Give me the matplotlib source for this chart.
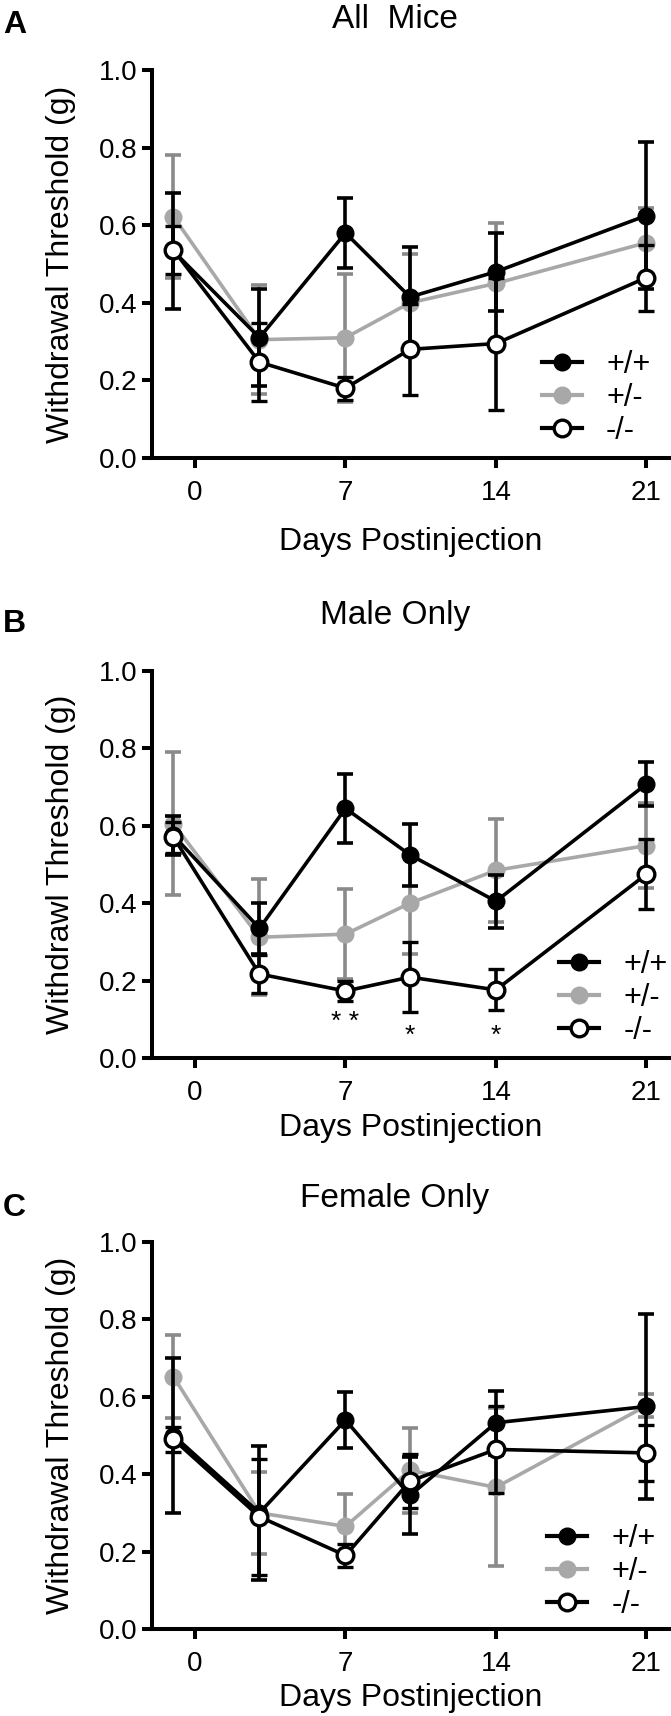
import matplotlib
matplotlib.use('Agg')

import numpy as np
import matplotlib.pyplot as plt

plt.rcParams['font.family'] = ['Liberation Sans', 'DejaVu Sans']

# Data (days postinjection, baseline drawn at -1)
days = [-1, 3, 7, 10, 14, 21]
groups = ['+/+', '+/-', '-/-']

# All mice
all_wt = [0.533, 0.31, 0.58, 0.415, 0.48, 0.625]
all_wt_err = [0.15, 0.125, 0.09, 0.13, 0.10, 0.19]
all_het = [0.622, 0.305, 0.31, 0.40, 0.45, 0.555]
all_het_err = [0.158, 0.14, 0.165, 0.125, 0.155, 0.09]
all_ko = [0.536, 0.247, 0.18, 0.28, 0.295, 0.465]
all_ko_err = [0.061, 0.10, 0.03, 0.118, 0.17, 0.085]

# Male only
male_wt = [0.575, 0.335, 0.645, 0.525, 0.405, 0.708]
male_wt_err = [0.05, 0.065, 0.09, 0.08, 0.068, 0.057]
male_het = [0.605, 0.312, 0.32, 0.40, 0.485, 0.549]
male_het_err = [0.185, 0.15, 0.117, 0.13, 0.133, 0.11]
male_ko = [0.571, 0.217, 0.173, 0.209, 0.176, 0.475]
male_ko_err = [0.04, 0.05, 0.025, 0.09, 0.053, 0.09]

# Female only
fem_wt = [0.50, 0.30, 0.54, 0.345, 0.533, 0.575]
fem_wt_err = [0.20, 0.173, 0.072, 0.10, 0.083, 0.24]
fem_het = [0.652, 0.30, 0.265, 0.41, 0.366, 0.577]
fem_het_err = [0.107, 0.105, 0.085, 0.11, 0.204, 0.03]
fem_ko = [0.49, 0.29, 0.19, 0.382, 0.464, 0.455]
fem_ko_err = [0.033, 0.15, 0.03, 0.07, 0.112, 0.073]

# significance marks for male panel
star_days = [7, 10, 14]
star_text = ['* *', '*', '*']
star_y = [0.093, 0.058, 0.058]

panels = [
    ('A', 'All  Mice', 'Withdrawal Threshold (g)', all_wt, all_wt_err, all_het, all_het_err, all_ko, all_ko_err),
    ('B', 'Male Only', 'Withdrawl Threshold (g)', male_wt, male_wt_err, male_het, male_het_err, male_ko, male_ko_err),
    ('C', 'Female Only', 'Withdrawal Threshold (g)', fem_wt, fem_wt_err, fem_het, fem_het_err, fem_ko, fem_ko_err),
]

W, H = 671, 1716
fig = plt.figure(figsize=(W / 100, H / 100), dpi=100)

# pixel layout: (axis top, axis bottom, title baseline, xlabel baseline)
layout = [(70, 458, 28, 550), (671, 1058, 624, 1136), (1242, 1629, 1207, 1706)]
letter_y = [33, 632, 1216]
legend_pos = [(0.859, 0.155), (0.893, 0.155), (0.869, 0.147)]
ax_left, ax_right = 152, 669

GRAY = '#a8a8a8'
GRAY_ERR = '#8a8a8a'
lw = 2.6

for i, (letter, title, ylab, wt, wte, het, hete, ko, koe) in enumerate(panels):
    top, bot, ty, xly = layout[i]
    ax = fig.add_axes([ax_left / W, 1 - bot / H, (ax_right - ax_left) / W, (bot - top) / H])

    common = dict(capsize=6, capthick=lw, elinewidth=lw, linewidth=lw, markersize=12)
    ax.errorbar(days, wt, yerr=wte, fmt='-o', color='black', ecolor='black',
                markerfacecolor='black', markeredgecolor='black', zorder=3, **common)
    ax.errorbar(days, het, yerr=hete, fmt='-o', color=GRAY, ecolor=GRAY_ERR,
                markerfacecolor=GRAY, markeredgecolor=GRAY, zorder=2, **common)
    ax.errorbar(days, ko, yerr=koe, fmt='-o', color='black', ecolor='black',
                markerfacecolor='white', markeredgecolor='black', markeredgewidth=2.4,
                zorder=4, **common)

    ax.set_xlim(-2, 22.05)
    ax.set_ylim(0, 1.0)
    ax.set_xticks([0, 7, 14, 21])
    ax.set_yticks([0, 0.2, 0.4, 0.6, 0.8, 1.0])
    ax.set_yticklabels(['0.0', '0.2', '0.4', '0.6', '0.8', '1.0'])
    for s in ['top', 'right']:
        ax.spines[s].set_visible(False)
    for s in ['left', 'bottom']:
        ax.spines[s].set_linewidth(2.9)
    ax.tick_params(axis='both', direction='out', length=7.5, width=2.9, labelsize=20)
    ax.tick_params(axis='x', pad=8)
    ax.tick_params(axis='y', pad=3)

    ax.set_ylabel(ylab, fontsize=23, va='center', ha='center')
    ax.yaxis.set_label_coords((61 - ax_left) / (ax_right - ax_left), 0.5)
    ax.set_xlabel('Days Postinjection', fontsize=23, va='baseline', ha='center')
    ax.xaxis.set_label_coords(0.5, (bot - xly) / (bot - top))

    # legend
    h1, = ax.plot([], [], '-o', color='black', lw=3, ms=12)
    h2, = ax.plot([], [], '-o', color=GRAY, lw=3, ms=12)
    h3, = ax.plot([], [], '-o', color='black', mfc='white', mec='black', mew=2.4, lw=3, ms=12)
    ax.legend([h1, h2, h3], groups, loc='center', bbox_to_anchor=legend_pos[i],
              frameon=False, fontsize=22, handlelength=1.3, handletextpad=0.8,
              labelspacing=0.1, borderpad=0, borderaxespad=0)

    fig.text(395 / W, 1 - ty / H, title, fontsize=24, ha='center', va='baseline')
    fig.text(3 / W, 1 - letter_y[i] / H, letter, fontsize=23, fontweight='bold',
             ha='left', va='baseline')

    if letter == 'B':
        for d, t, y in zip(star_days, star_text, star_y):
            ax.text(d, y, t, fontsize=19, ha='center', va='center')

fig.savefig('out.png', dpi=100)
